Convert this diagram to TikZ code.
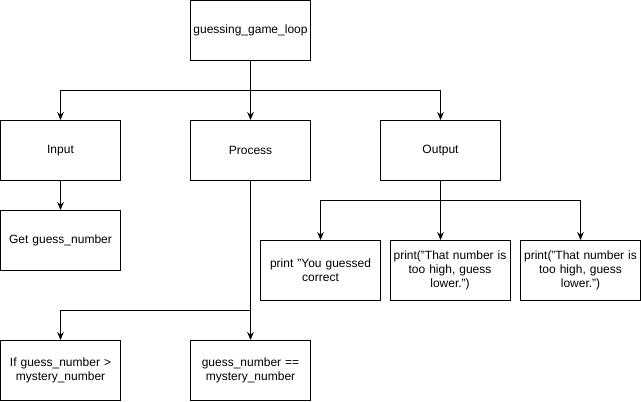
\documentclass[tikz,border=0pt]{standalone}
\usepackage{fontspec}
\setmainfont{Liberation Sans}
\usetikzlibrary{arrows.meta}
\begin{document}
\begin{tikzpicture}[x=0.75pt,y=-0.75pt,
  box/.style={draw=black,line width=0.75pt,minimum width=90pt,minimum height=45pt,inner sep=0pt,align=center,text width=86pt,font=\fontsize{9}{10.5}\selectfont},
  conn/.style={draw=black,line width=0.75pt},
  arr/.style={conn,-{Stealth[length=6pt,width=5pt,inset=2pt]}}]
\useasboundingbox (0,0) rectangle (641,401);
\node[box] (loop) at (250.5,30.5) {guessing\_game\_loop};
\node[box] (in) at (60.5,150.5) {Input};
\node[box] (proc) at (250.5,150.5) {Process};
\node[box] (out) at (440.5,150.5) {Output};
\node[box] (get) at (60.5,240.5) {Get guess\_number};
\node[box] (p1) at (320.5,270.5) {print "You guessed\\correct};
\node[box] (p2) at (450,270.5) {print("That number is\\too high, guess\\lower.")};
\node[box] (p3) at (580.5,270.5) {print("That number is\\too high, guess\\lower.")};
\node[box] (ifb) at (60.5,370.5) {If guess\_number >\\mystery\_number};
\node[box] (eq) at (250.5,370.5) {guess\_number ==\\mystery\_number};
\coordinate (j1) at (250.5,90.5);
\coordinate (j2) at (440.5,200.5);
\coordinate (j3) at (250.5,310.5);
\draw[conn] (loop.south) -- (j1);
\draw[arr] (j1) -| (in.north);
\draw[arr] (j1) -- (proc.north);
\draw[arr] (j1) -| (out.north);
\draw[arr] (in.south) -- (get.north);
\draw[conn] (out.south) -- (j2);
\draw[arr] (j2) -| (p1.north);
\draw[arr] (j2) -- (j2 |- p2.north);
\draw[arr] (j2) -| (p3.north);
\draw[conn] (proc.south) -- (j3);
\draw[arr] (j3) -| (ifb.north);
\draw[arr] (j3) -- (eq.north);
\end{tikzpicture}
\end{document}
